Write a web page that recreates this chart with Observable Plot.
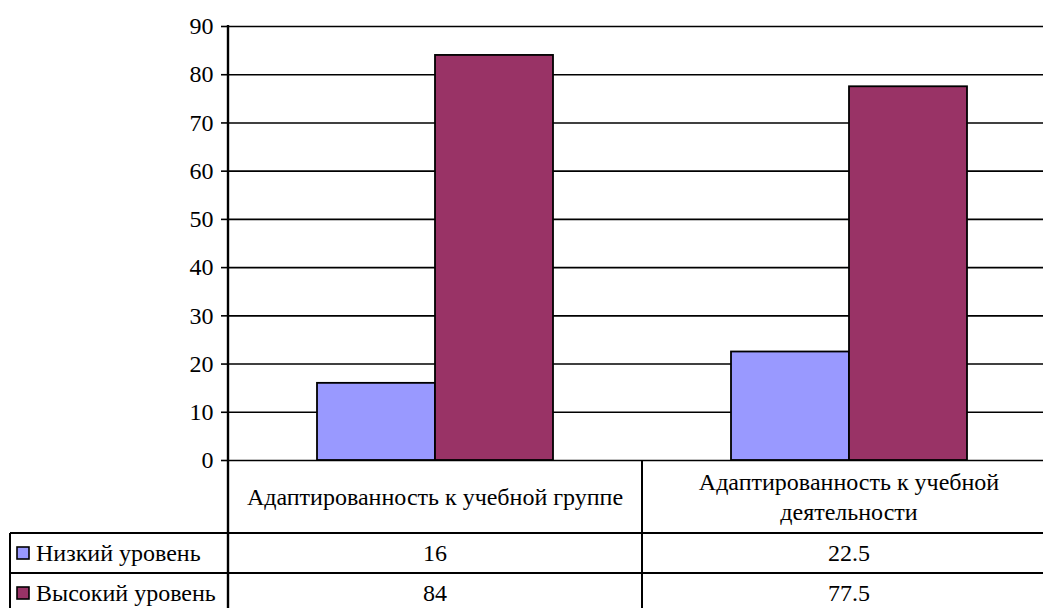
<!DOCTYPE html>
<html>
<head>
<meta charset="utf-8">
<script src="https://cdn.jsdelivr.net/npm/d3@7"></script>
<script src="https://cdn.jsdelivr.net/npm/@observablehq/plot@0.6"></script>
<style>
  html, body { margin: 0; padding: 0; background: #fff; }
</style>
</head>
<body>
<div id="chart"></div>
<script>
const categories = ["Адаптированность к учебной группе", "Адаптированность к учебной деятельности"];
const categoryLines = [["Адаптированность к учебной группе"], ["Адаптированность к учебной", "деятельности"]];
const series = ["Низкий уровень", "Высокий уровень"];
const lowValues = [16, 22.5];
const highValues = [84, 77.5];
const valueLabels = [["16", "84"], ["22.5", "77.5"]];
const colors = ["#9999FF", "#993366"];
const yTicks = [0, 10, 20, 30, 40, 50, 60, 70, 80, 90];

const data = [];
categories.forEach((c, i) => {
  data.push({cat: c, series: series[0], value: lowValues[i]});
  data.push({cat: c, series: series[1], value: highValues[i]});
});

const FONT = "'Liberation Serif', 'Times New Roman', serif";
const FS = 24;

const W = 1043, H = 608;
const mL = 227, mT = 26, mB = 148, mR = -13;

const plot = Plot.plot({
  width: W,
  height: H,
  marginLeft: mL,
  marginRight: mR,
  marginTop: mT,
  marginBottom: mB,
  style: {fontSize: FS + "px", color: "#000", background: "#fff", overflow: "hidden"},
  fx: {domain: categories, padding: 0, axis: null},
  x: {domain: series, paddingInner: 0, paddingOuter: 0.754, axis: null},
  y: {domain: [0, 90], axis: null},
  color: {domain: series, range: colors},
  marks: [
    Plot.gridY(yTicks, {stroke: "#000", strokeOpacity: 1, strokeWidth: 1.6}),
    Plot.barY(data, {fx: "cat", x: "series", y: "value", fill: "series", stroke: "#000", strokeWidth: 1.8}),
    Plot.axisY(yTicks, {label: null, tickSize: 7, tickPadding: 8, stroke: "#000", strokeWidth: 1.6, fill: "#000", fontSize: FS, tickFormat: d => d})
  ]
});

// Data table beneath the plot, positioned from Plot's scales
const fx = plot.scale("fx");
const y = plot.scale("y");
const svg = d3.select(plot);
const g = svg.append("g")
  .attr("font-size", FS)
  .attr("fill", "#000")
  .attr("text-anchor", "start");

const y0 = y.apply(0);
const yTop = y.apply(90);
const row1Top = 533, row2Top = 573, row3Top = 613;
const legendLeft = 10;
const xLeft = fx.apply(categories[0]);
const xRight = fx.apply(categories[categories.length - 1]) + fx.bandwidth;

const line = (x1, y1, x2, y2, w) => g.append("line")
  .attr("x1", x1).attr("y1", y1).attr("x2", x2).attr("y2", y2)
  .attr("stroke", "#000").attr("stroke-width", w);

// Y axis line
line(xLeft, yTop - 1, xLeft, H, 2.4);
// table horizontal lines
line(legendLeft, row1Top, xRight, row1Top, 2);
line(legendLeft, row2Top, xRight, row2Top, 2);
line(legendLeft, row3Top, xRight, row3Top, 2);
// legend left border
line(legendLeft, row1Top, legendLeft, H, 2);
// column separators
categories.forEach((c, i) => {
  if (i > 0) line(fx.apply(c), y0, fx.apply(c), H, 2);
});

// header text
categories.forEach((c, i) => {
  const cx = fx.apply(c) + fx.bandwidth / 2;
  const lines = categoryLines[i];
  const lh = 30;
  const cy = (y0 + row1Top) / 2;
  lines.forEach((t, k) => {
    g.append("text")
      .attr("x", cx)
      .attr("y", cy + (k - (lines.length - 1) / 2) * lh)
      .attr("dy", "0.35em")
      .attr("text-anchor", "middle")
      .text(t);
  });
});

// value rows
const rowTops = [row1Top, row2Top];
series.forEach((s, si) => {
  const cy = rowTops[si] + 20;
  categories.forEach((c, ci) => {
    g.append("text")
      .attr("x", fx.apply(c) + fx.bandwidth / 2)
      .attr("y", cy)
      .attr("dy", "0.35em")
      .attr("text-anchor", "middle")
      .text(valueLabels[ci][si]);
  });
  // legend key
  g.append("rect")
    .attr("x", 17).attr("y", cy - 6)
    .attr("width", 12).attr("height", 12)
    .attr("fill", colors[si]).attr("stroke", "#000").attr("stroke-width", 1.6);
  g.append("text")
    .attr("x", 36).attr("y", cy)
    .attr("dy", "0.35em")
    .attr("text-anchor", "start")
    .text(s);
});

// apply the serif face to every text element directly
svg.attr("font-family", FONT).style("font-family", FONT);
svg.selectAll("g").attr("font-family", FONT);
svg.selectAll("text").attr("font-family", FONT).style("font-family", FONT);

document.getElementById("chart").appendChild(plot);
</script>
</body>
</html>
